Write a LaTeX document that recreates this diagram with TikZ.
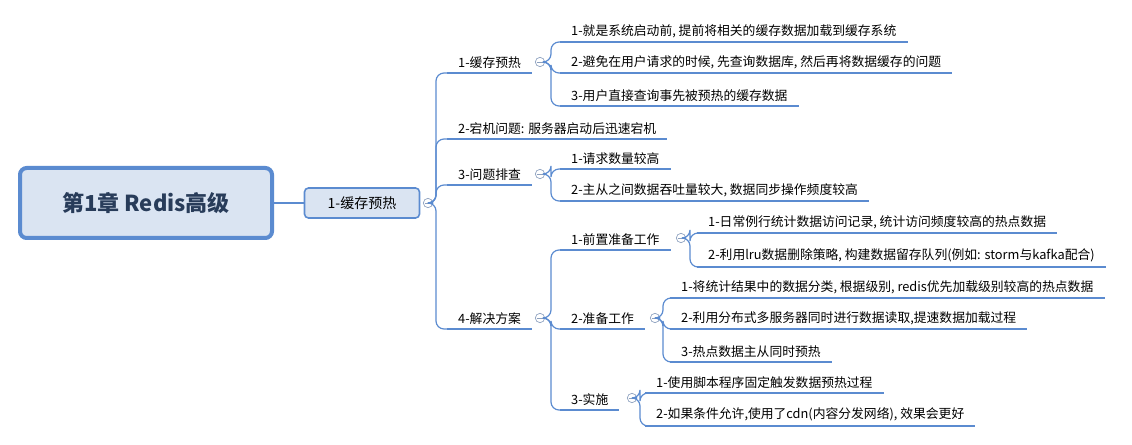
\documentclass[tikz,border=0pt]{standalone}
\usepackage{fontspec}
\setmainfont{Noto Sans CJK SC}
\definecolor{mapblue}{RGB}{91,139,208}
\definecolor{rootfill}{RGB}{218,228,242}
\definecolor{roottext}{RGB}{40,60,90}
\definecolor{fold}{RGB}{140,160,190}
\tikzset{every picture/.style={line width=0.75pt},
  leaf/.style={anchor=south west,inner xsep=8pt,inner ysep=3pt,font=\fontsize{9.6}{12}\selectfont,text=black},
  uline/.style={draw=mapblue,line width=1.6pt},
  conn/.style={draw=mapblue,line width=0.9pt,rounded corners=6pt},
  foldbtn/.style={circle,draw=fold,fill=white,inner sep=0pt,minimum size=7pt,line width=0.5pt,
    path picture={\draw[fold,line width=0.5pt] ([xshift=-2pt]path picture bounding box.center) -- ([xshift=2pt]path picture bounding box.center);}}}
\newcommand{\topicline}[1]{\draw[uline] (#1.south west) -- (#1.south east);}
\begin{document}
\begin{tikzpicture}[x=0.75pt,y=0.75pt,yscale=-1,xscale=1]
\useasboundingbox (0,0) rectangle (1132,445);

% Root and first level
\node[draw=mapblue,line width=3pt,fill=rootfill,rounded corners=5pt,minimum width=252*0.75pt,minimum height=70*0.75pt,font=\fontsize{16.5}{20}\selectfont\bfseries,text=roottext] (root) at (146,203) {第1章 Redis高级};
\node[draw=mapblue,line width=1.2pt,fill=rootfill,rounded corners=3pt,minimum width=115*0.75pt,minimum height=30*0.75pt,font=\fontsize{10.5}{12}\selectfont] (top) at (362,203) {1-缓存预热};
\draw[conn] (root.east) -- (top.west);
\node[foldbtn] (ftop) at (428,203) {};

% Second level
\node[leaf] (a) at (447,73) {1-缓存预热}; \topicline{a}
\node[leaf] (b) at (447,139) {2-宕机问题: 服务器启动后迅速宕机}; \topicline{b}
\node[leaf] (c) at (447,185) {3-问题排查}; \topicline{c}
\node[leaf] (d) at (447,329) {4-解决方案}; \topicline{d}
\foreach \n in {a,b,c,d}
  \draw[conn] (ftop.east) -- ++(3,0) |- (\n.south west);
\node[foldbtn] (fa) at (540,62) {};
\node[foldbtn] (fc) at (540,174) {};
\node[foldbtn] (fd) at (540,318) {};

% Under 1-缓存预热
\node[leaf] (a1) at (560,42) {1-就是系统启动前, 提前将相关的缓存数据加载到缓存系统}; \topicline{a1}
\node[leaf] (a2) at (560,73) {2-避免在用户请求的时候, 先查询数据库, 然后再将数据缓存的问题}; \topicline{a2}
\node[leaf] (a3) at (560,106) {3-用户直接查询事先被预热的缓存数据}; \topicline{a3}
\foreach \n in {a1,a2,a3}
  \draw[conn] (fa.east) -- ++(6,0) |- (\n.south west);

% Under 3-问题排查
\node[leaf] (c1) at (560,169) {1-请求数量较高}; \topicline{c1}
\node[leaf] (c2) at (560,201) {2-主从之间数据吞吐量较大, 数据同步操作频度较高}; \topicline{c2}
\foreach \n in {c1,c2}
  \draw[conn] (fc.east) -- ++(6,0) |- (\n.south west);

% Under 4-解决方案
\node[leaf] (d1) at (560,250) {1-前置准备工作}; \topicline{d1}
\node[leaf] (d2) at (560,329) {2-准备工作}; \topicline{d2}
\node[leaf] (d3) at (560,410) {3-实施}; \topicline{d3}
\foreach \n in {d1,d2,d3}
  \draw[conn] (fd.east) -- ++(6,0) |- (\n.south west);
\node[foldbtn] (fd1) at (681,238) {};
\node[foldbtn] (fd2) at (655,318) {};
\node[foldbtn] (fd3) at (632,398) {};

\node[leaf] (e1) at (697,233) {1-日常例行统计数据访问记录, 统计访问频度较高的热点数据}; \topicline{e1}
\node[leaf] (e2) at (697,267) {2-利用lru数据删除策略, 构建数据留存队列(例如: storm与kafka配合)}; \topicline{e2}
\foreach \n in {e1,e2}
  \draw[conn] (fd1.east) -- ++(4,0) |- (\n.south west);

\node[leaf] (f1) at (670,298) {1-将统计结果中的数据分类, 根据级别, redis优先加载级别较高的热点数据}; \topicline{f1}
\node[leaf] (f2) at (670,329) {2-利用分布式多服务器同时进行数据读取,提速数据加载过程}; \topicline{f2}
\node[leaf] (f3) at (670,362) {3-热点数据主从同时预热}; \topicline{f3}
\foreach \n in {f1,f2,f3}
  \draw[conn] (fd2.east) -- ++(3,0) |- (\n.south west);

\node[leaf] (g1) at (645,393) {1-使用脚本程序固定触发数据预热过程}; \topicline{g1}
\node[leaf] (g2) at (645,426) {2-如果条件允许,使用了cdn(内容分发网络), 效果会更好}; \topicline{g2}
\foreach \n in {g1,g2}
  \draw[conn] (fd3.east) -- ++(3,0) |- (\n.south west);

\end{tikzpicture}
\end{document}
